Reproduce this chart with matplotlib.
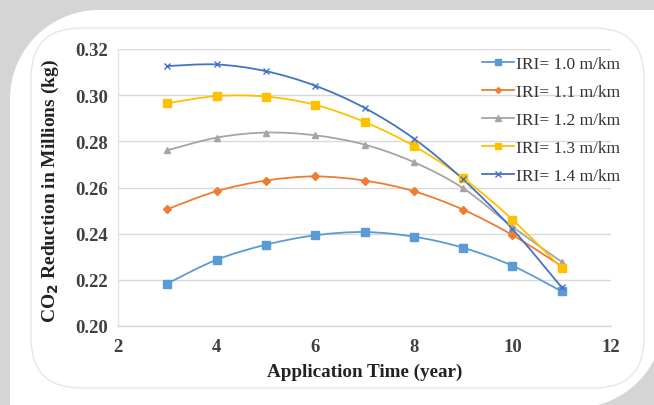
import numpy as np
import matplotlib
matplotlib.use("Agg")
import matplotlib.pyplot as plt
from matplotlib.path import Path
from matplotlib.patches import PathPatch, FancyBboxPatch
from matplotlib.lines import Line2D

# ---------------- data ----------------
years = [3, 4, 5, 6, 7, 8, 9, 10, 11]
iri_10 = [0.2184, 0.2287, 0.2352, 0.2393, 0.2407, 0.2387, 0.2339, 0.2261, 0.2150]
iri_11 = [0.2506, 0.2584, 0.2630, 0.2648, 0.2630, 0.2584, 0.2504, 0.2394, 0.2259]
iri_12 = [0.2761, 0.2816, 0.2838, 0.2826, 0.2786, 0.2710, 0.2597, 0.2430, 0.2278]
iri_13 = [0.2965, 0.2996, 0.2994, 0.2958, 0.2884, 0.2780, 0.2641, 0.2461, 0.2250]
iri_14 = [0.3126, 0.3133, 0.3104, 0.3041, 0.2945, 0.2812, 0.2635, 0.2420, 0.2167]
labels = ["IRI= 1.0 m/km", "IRI= 1.1 m/km", "IRI= 1.2 m/km", "IRI= 1.3 m/km", "IRI= 1.4 m/km"]
x_ticks = [2, 4, 6, 8, 10, 12]
y_ticks = [0.20, 0.22, 0.24, 0.26, 0.28, 0.30, 0.32]
x_label = "Application Time (year)"
y_label = "CO$_\\mathbf{2}$ Reduction in Millions (kg)"

series = [iri_10, iri_11, iri_12, iri_13, iri_14]
colors = ["#5B9BD5", "#ED7D31", "#A5A5A5", "#FFC000", "#4472C4"]
markers = ["s", "D", "^", "s", "x"]
msizes = [5.5, 4.0, 5.0, 5.5, 5.0]

W, H = 654, 406
fig = plt.figure(figsize=(W / 100, H / 100), dpi=100)
fig.patch.set_facecolor("#d5d5d5")


# card decoration (display pixel coordinates, y measured from the top of the image)
def corner(cx, cy, r, a0, a1, n=40):
    a = np.linspace(np.radians(a0), np.radians(a1), n)
    return [(cx + r * np.cos(t), H - (cy - r * np.sin(t))) for t in a]


card_pts = []
card_pts += corner(99, 100, 89, 180, 90)          # top-left rounded corner
card_pts += [(700, H - 11)]                       # top edge runs off the right side
card_pts += [(700, H - 320)]
card_pts += corner(575, 320, 89, 0, -90)          # bottom-right rounded corner
card_pts += [(10, H - 440)]                       # bottom edge runs off the image
card_path = Path(card_pts + [card_pts[0]], closed=True)
fig.patches.append(PathPatch(card_path, transform=None, facecolor="white",
                             edgecolor="none", zorder=-10))
inner = FancyBboxPatch((31, H - 389), 613, 360, boxstyle="round,pad=0,rounding_size=50",
                       transform=None, facecolor="none", edgecolor="#e2e2e2", lw=0.8, zorder=-9)
fig.patches.append(inner)

ax = fig.add_axes([118 / W, (H - 327) / H, (611 - 118) / W, (327 - 50) / H])
ax.set_zorder(2)
ax.set_facecolor("none")
ax.set_xlim(2, 12)
ax.set_ylim(0.20, 0.32)


def smooth_path(xs, ys):
    pts = np.column_stack([xs, ys]).astype(float)
    n = len(pts)
    verts = [pts[0]]
    codes = [Path.MOVETO]
    for i in range(n - 1):
        p0 = pts[i - 1] if i > 0 else pts[i]
        p1 = pts[i]
        p2 = pts[i + 1]
        p3 = pts[i + 2] if i + 2 < n else pts[i + 1]
        c1 = p1 + (p2 - p0) / 6.0
        c2 = p2 - (p3 - p1) / 6.0
        verts += [c1, c2, p2]
        codes += [Path.CURVE4] * 3
    return Path(verts, codes)


for ys, c, m, ms, lab in zip(series, colors, markers, msizes, labels):
    ax.add_patch(PathPatch(smooth_path(years, ys), facecolor="none", edgecolor=c, lw=1.3, zorder=3))
    if m == "x":
        ax.plot(years, ys, ls="none", marker=m, ms=ms, mec=c, mew=1.0, zorder=4)
    else:
        ax.plot(years, ys, ls="none", marker=m, ms=ms, mfc=c, mec=c, zorder=4)

ax.set_xticks(x_ticks)
ax.set_yticks(y_ticks)
ax.set_yticklabels([f"{v:.2f}" for v in y_ticks])
ax.yaxis.grid(True, color="#d9d9d9", lw=1.0)
ax.set_axisbelow(True)
for s in ["top", "right"]:
    ax.spines[s].set_visible(False)
ax.spines["left"].set_color("#e3e3e3")
ax.spines["bottom"].set_color("#d9d9d9")
ax.spines["left"].set_linewidth(1.0)
ax.spines["bottom"].set_linewidth(1.0)

ax.tick_params(axis="both", length=0, colors="#404040")
ax.tick_params(axis="y", pad=7)
ax.tick_params(axis="x", pad=9)
for t in ax.get_xticklabels() + ax.get_yticklabels():
    t.set_fontfamily("Liberation Serif")
    t.set_fontweight("bold")
    t.set_fontsize(13.5)
    t.set_color("#404040")

fig.text(365 / W, 1 - 372 / H, x_label, ha="center", va="center",
         fontfamily="Liberation Serif", fontweight="bold", fontsize=13.8, color="#222222")
fig.text(50 / W, 1 - 191 / H, y_label, ha="center", va="center", rotation=90,
         fontfamily="Liberation Serif", fontweight="bold", fontsize=14, color="#222222")

handles = []
for c, m, ms in zip(colors, markers, msizes):
    if m == "x":
        handles.append(Line2D([], [], color=c, lw=1.3, marker=m, ms=ms - 1, mec=c))
    else:
        handles.append(Line2D([], [], color=c, lw=1.3, marker=m, ms=ms - 1, mfc=c, mec=c))
leg = ax.legend(handles, labels, loc="upper left", bbox_to_anchor=(466 / W, 1 - 41.5 / H),
                bbox_transform=fig.transFigure,
                frameon=False, handlelength=1.85, handletextpad=0.15, labelspacing=0.68,
                borderpad=0.4, prop=dict(family="Liberation Serif", size=12.5))
for t in leg.get_texts():
    t.set_color("#333333")

fig.savefig("out.png", dpi=100, facecolor=fig.get_facecolor())
